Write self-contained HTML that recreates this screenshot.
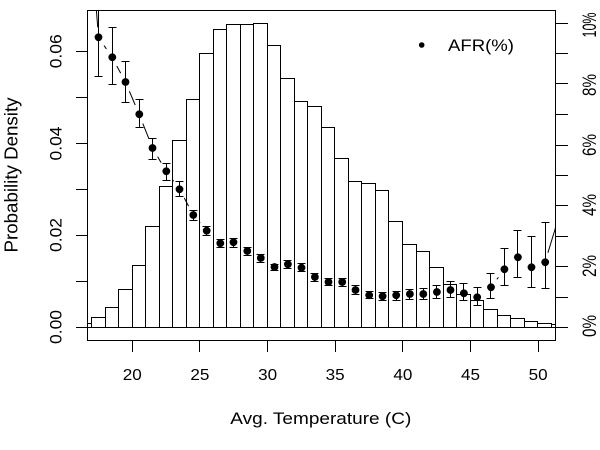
<!DOCTYPE html>
<html>
<head>
<meta charset="utf-8">
<style>
html,body{margin:0;padding:0;background:#fff;}
svg{display:block;}
text{font-family:"Liberation Sans",Arial,sans-serif;fill:#000;}
</style>
</head>
<body>
<svg width="600" height="450" viewBox="0 0 600 450" xmlns="http://www.w3.org/2000/svg">
<defs>
<clipPath id="pr"><rect x="87.5" y="10.5" width="468" height="330"/></clipPath>
<mask id="gapmask" maskUnits="userSpaceOnUse" x="0" y="-200" width="600" height="700">
<rect x="0" y="-200" width="600" height="700" fill="#fff"/>
<g fill="#000">
<circle cx="84.9" cy="-137" r="10"/>
<circle cx="98.5" cy="37.3" r="10"/>
<circle cx="112" cy="57.3" r="10"/>
<circle cx="125.5" cy="82" r="10"/>
<circle cx="139.1" cy="114.3" r="10"/>
<circle cx="152.6" cy="148" r="10"/>
<circle cx="166.1" cy="171.3" r="10"/>
<circle cx="179.7" cy="189.3" r="10"/>
<circle cx="193.2" cy="215" r="10"/>
<circle cx="206.7" cy="230.7" r="10"/>
<circle cx="220.2" cy="243.3" r="10"/>
<circle cx="233.8" cy="242.3" r="10"/>
<circle cx="247.3" cy="251" r="10"/>
<circle cx="260.8" cy="258" r="10"/>
<circle cx="274.4" cy="267" r="10"/>
<circle cx="287.9" cy="264.3" r="10"/>
<circle cx="301.4" cy="267.7" r="10"/>
<circle cx="314.9" cy="277" r="10"/>
<circle cx="328.5" cy="282" r="10"/>
<circle cx="342" cy="282" r="10"/>
<circle cx="355.5" cy="290" r="10"/>
<circle cx="369.1" cy="295.3" r="10"/>
<circle cx="382.6" cy="296.3" r="10"/>
<circle cx="396.1" cy="295.3" r="10"/>
<circle cx="409.7" cy="294" r="10"/>
<circle cx="423.2" cy="294" r="10"/>
<circle cx="436.7" cy="292" r="10"/>
<circle cx="450.3" cy="290" r="10"/>
<circle cx="463.8" cy="293.3" r="10"/>
<circle cx="477.3" cy="297.3" r="10"/>
<circle cx="490.8" cy="287.3" r="10"/>
<circle cx="504.4" cy="269.3" r="10"/>
<circle cx="517.9" cy="257.3" r="10"/>
<circle cx="531.4" cy="267.3" r="10"/>
<circle cx="545" cy="262.3" r="10"/>
<circle cx="558.5" cy="218" r="10"/>
</g>
</mask>
</defs>

<rect x="0" y="0" width="600" height="450" fill="#fff"/>

<!-- histogram -->
<g clip-path="url(#pr)" fill="none" stroke="#000" stroke-width="1" shape-rendering="crispEdges">
<path d="
M78.5 327.5V323.5H91.5V327.5
M91.5 327.5V317.5H105.5V327.5
M105.5 327.5V307.5H118.5V327.5
M118.5 327.5V289.5H132.5V327.5
M132.5 327.5V265.5H145.5V327.5
M145.5 327.5V226.5H159.5V327.5
M159.5 327.5V186.5H172.5V327.5
M172.5 327.5V140.5H186.5V327.5
M186.5 327.5V99.5H199.5V327.5
M199.5 327.5V53.5H213.5V327.5
M213.5 327.5V29.5H226.5V327.5
M226.5 327.5V24.5H240.5V327.5
M240.5 327.5V24.5H253.5V327.5
M253.5 327.5V23.5H267.5V327.5
M267.5 327.5V45.5H280.5V327.5
M280.5 327.5V78.5H294.5V327.5
M294.5 327.5V101.5H307.5V327.5
M307.5 327.5V106.5H321.5V327.5
M321.5 327.5V127.5H334.5V327.5
M334.5 327.5V158.5H348.5V327.5
M348.5 327.5V181.5H361.5V327.5
M361.5 327.5V183.5H375.5V327.5
M375.5 327.5V190.5H388.5V327.5
M388.5 327.5V221.5H402.5V327.5
M402.5 327.5V244.5H416.5V327.5
M416.5 327.5V251.5H429.5V327.5
M429.5 327.5V267.5H443.5V327.5
M443.5 327.5V284.5H456.5V327.5
M456.5 327.5V294.5H470.5V327.5
M470.5 327.5V300.5H483.5V327.5
M483.5 327.5V309.5H497.5V327.5
M497.5 327.5V315.5H510.5V327.5
M510.5 327.5V318.5H524.5V327.5
M524.5 327.5V321.5H537.5V327.5
M537.5 327.5V323.5H551.5V327.5
M551.5 327.5V324.5H565.5V327.5
M70 327.5H570
"/>
</g>

<!-- connecting line (type b) -->
<g clip-path="url(#pr)">
<polyline mask="url(#gapmask)" fill="none" stroke="#000" stroke-width="1" points="84.9,-137 98.5,37.3 112,57.3 125.5,82 139.1,114.3 152.6,148 166.1,171.3 179.7,189.3 193.2,215 206.7,230.7 220.2,243.3 233.8,242.3 247.3,251 260.8,258 274.4,267 287.9,264.3 301.4,267.7 314.9,277 328.5,282 342,282 355.5,290 369.1,295.3 382.6,296.3 396.1,295.3 409.7,294 423.2,294 436.7,292 450.3,290 463.8,293.3 477.3,297.3 490.8,287.3 504.4,269.3 517.9,257.3 531.4,267.3 545,262.3 558.5,218"/>
</g>

<!-- error bars -->
<g clip-path="url(#pr)" fill="none" stroke="#000" stroke-width="1" shape-rendering="crispEdges">
<path d="
M98.5 0V76.5M94.5 76.5H102.5
M112.5 27.5V84.5M108.5 27.5H116.5M108.5 84.5H116.5
M125.5 61.5V102.5M121.5 61.5H129.5M121.5 102.5H129.5
M139.5 99.5V127.5M135.5 99.5H143.5M135.5 127.5H143.5
M152.5 138.5V159.5M148.5 138.5H156.5M148.5 159.5H156.5
M166.5 163.5V180.5M162.5 163.5H170.5M162.5 180.5H170.5
M179.5 181.5V196.5M175.5 181.5H183.5M175.5 196.5H183.5
M193.5 210.5V220.5M189.5 210.5H197.5M189.5 220.5H197.5
M206.5 226.5V235.5M202.5 226.5H210.5M202.5 235.5H210.5
M220.5 239.5V247.5M216.5 239.5H224.5M216.5 247.5H224.5
M233.5 238.5V247.5M229.5 238.5H237.5M229.5 247.5H237.5
M247.5 247.5V255.5M243.5 247.5H251.5M243.5 255.5H251.5
M260.5 254.5V262.5M256.5 254.5H264.5M256.5 262.5H264.5
M274.5 264.5V270.5M270.5 264.5H278.5M270.5 270.5H278.5
M287.5 260.5V268.5M283.5 260.5H291.5M283.5 268.5H291.5
M301.5 263.5V271.5M297.5 263.5H305.5M297.5 271.5H305.5
M314.5 273.5V281.5M310.5 273.5H318.5M310.5 281.5H318.5
M328.5 278.5V285.5M324.5 278.5H332.5M324.5 285.5H332.5
M342.5 278.5V286.5M338.5 278.5H346.5M338.5 286.5H346.5
M355.5 285.5V294.5M351.5 285.5H359.5M351.5 294.5H359.5
M369.5 291.5V298.5M365.5 291.5H373.5M365.5 298.5H373.5
M382.5 292.5V300.5M378.5 292.5H386.5M378.5 300.5H386.5
M396.5 291.5V300.5M392.5 291.5H400.5M392.5 300.5H400.5
M409.5 289.5V299.5M405.5 289.5H413.5M405.5 299.5H413.5
M423.5 288.5V299.5M419.5 288.5H427.5M419.5 299.5H427.5
M436.5 285.5V298.5M432.5 285.5H440.5M432.5 298.5H440.5
M450.5 281.5V297.5M446.5 281.5H454.5M446.5 297.5H454.5
M463.5 283.5V300.5M459.5 283.5H467.5M459.5 300.5H467.5
M477.5 287.5V305.5M473.5 287.5H481.5M473.5 305.5H481.5
M490.5 273.5V298.5M486.5 273.5H494.5M486.5 298.5H494.5
M504.5 248.5V285.5M500.5 248.5H508.5M500.5 285.5H508.5
M517.5 230.5V277.5M513.5 230.5H521.5M513.5 277.5H521.5
M531.5 236.5V287.5M527.5 236.5H535.5M527.5 287.5H535.5
M545.5 222.5V288.5M541.5 222.5H549.5M541.5 288.5H549.5
"/>
</g>

<!-- points -->
<g clip-path="url(#pr)" fill="#000">
<circle cx="98.5" cy="37.3" r="3.9"/>
<circle cx="112.3" cy="57.3" r="3.9"/>
<circle cx="125.5" cy="82" r="3.9"/>
<circle cx="139.3" cy="114.3" r="3.9"/>
<circle cx="152.5" cy="148" r="3.9"/>
<circle cx="166.3" cy="171.3" r="3.9"/>
<circle cx="179.5" cy="189.3" r="3.9"/>
<circle cx="193.3" cy="215" r="3.9"/>
<circle cx="206.7" cy="230.7" r="3.9"/>
<circle cx="220.3" cy="243.3" r="3.9"/>
<circle cx="233.5" cy="242.3" r="3.9"/>
<circle cx="247.3" cy="251" r="3.9"/>
<circle cx="260.8" cy="258" r="3.9"/>
<circle cx="274.5" cy="267" r="3.9"/>
<circle cx="287.9" cy="264.3" r="3.9"/>
<circle cx="301.5" cy="267.7" r="3.9"/>
<circle cx="314.9" cy="277" r="3.9"/>
<circle cx="328.5" cy="282" r="3.9"/>
<circle cx="342.2" cy="282" r="3.9"/>
<circle cx="355.5" cy="290" r="3.9"/>
<circle cx="369.2" cy="295.3" r="3.9"/>
<circle cx="382.6" cy="296.3" r="3.9"/>
<circle cx="396.2" cy="295.3" r="3.9"/>
<circle cx="409.9" cy="294" r="3.9"/>
<circle cx="423.3" cy="294" r="3.9"/>
<circle cx="436.9" cy="292" r="3.9"/>
<circle cx="450.5" cy="290" r="3.9"/>
<circle cx="463.9" cy="293.3" r="3.9"/>
<circle cx="477.2" cy="297.3" r="3.9"/>
<circle cx="491" cy="287.3" r="3.9"/>
<circle cx="504.4" cy="269.3" r="3.9"/>
<circle cx="517.9" cy="257.3" r="3.9"/>
<circle cx="531.5" cy="267.3" r="3.9"/>
<circle cx="545.2" cy="262.3" r="3.9"/>
</g>

<!-- box and axes -->
<g fill="none" stroke="#000" stroke-width="1" shape-rendering="crispEdges">
<rect x="87.5" y="10.5" width="468" height="330"/>
<path d="M76 327.5H87.5M76 281.5H87.5M76 235.5H87.5M76 189.5H87.5M76 143.5H87.5M76 97.5H87.5M76 51.5H87.5"/>
<path d="M555.5 327.5H568M555.5 297.5H568M555.5 266.5H568M555.5 236.5H568M555.5 205.5H568M555.5 175.5H568M555.5 145.5H568M555.5 114.5H568M555.5 83.5H568M555.5 53.5H568M555.5 23.5H568"/>
<path d="M132.5 340.5V352M199.5 340.5V352M267.5 340.5V352M335.5 340.5V352M402.5 340.5V352M470.5 340.5V352M538.5 340.5V352"/>
</g>

<!-- bottom tick labels -->
<g font-size="16" text-anchor="middle">
<text x="132.3" y="380" textLength="19" lengthAdjust="spacingAndGlyphs">20</text>
<text x="199.9" y="380" textLength="19" lengthAdjust="spacingAndGlyphs">25</text>
<text x="267.6" y="380" textLength="19" lengthAdjust="spacingAndGlyphs">30</text>
<text x="335.2" y="380" textLength="19" lengthAdjust="spacingAndGlyphs">35</text>
<text x="402.9" y="380" textLength="19" lengthAdjust="spacingAndGlyphs">40</text>
<text x="470.5" y="380" textLength="19" lengthAdjust="spacingAndGlyphs">45</text>
<text x="538.2" y="380" textLength="19" lengthAdjust="spacingAndGlyphs">50</text>
</g>

<!-- left tick labels -->
<g font-size="17" text-anchor="middle">
<text transform="translate(61.7,327) rotate(-90)" x="0" y="0" textLength="34" lengthAdjust="spacingAndGlyphs">0.00</text>
<text transform="translate(61.7,235) rotate(-90)" x="0" y="0" textLength="34" lengthAdjust="spacingAndGlyphs">0.02</text>
<text transform="translate(61.7,143.5) rotate(-90)" x="0" y="0" textLength="34" lengthAdjust="spacingAndGlyphs">0.04</text>
<text transform="translate(61.7,51.3) rotate(-90)" x="0" y="0" textLength="34" lengthAdjust="spacingAndGlyphs">0.06</text>
</g>

<!-- right tick labels -->
<g font-size="19" text-anchor="middle">
<text transform="translate(596,326) rotate(-90)" x="0" y="0" textLength="22" lengthAdjust="spacingAndGlyphs">0%</text>
<text transform="translate(596,266) rotate(-90)" x="0" y="0" textLength="22" lengthAdjust="spacingAndGlyphs">2%</text>
<text transform="translate(596,205) rotate(-90)" x="0" y="0" textLength="22" lengthAdjust="spacingAndGlyphs">4%</text>
<text transform="translate(596,145) rotate(-90)" x="0" y="0" textLength="22" lengthAdjust="spacingAndGlyphs">6%</text>
<text transform="translate(596,85) rotate(-90)" x="0" y="0" textLength="22" lengthAdjust="spacingAndGlyphs">8%</text>
<text transform="translate(596,25) rotate(-90)" x="0" y="0" textLength="25" lengthAdjust="spacingAndGlyphs">10%</text>
</g>

<!-- axis titles -->
<text x="320.8" y="424" font-size="17" text-anchor="middle" textLength="181" lengthAdjust="spacingAndGlyphs">Avg. Temperature (C)</text>
<text transform="translate(17.5,175) rotate(-90)" x="0" y="0" font-size="18" text-anchor="middle" textLength="155" lengthAdjust="spacingAndGlyphs">Probability Density</text>

<!-- legend -->
<circle cx="421.7" cy="45" r="2.8" fill="#000"/>
<text x="448" y="51" font-size="17" textLength="66" lengthAdjust="spacingAndGlyphs">AFR(%)</text>
</svg>
</body>
</html>
